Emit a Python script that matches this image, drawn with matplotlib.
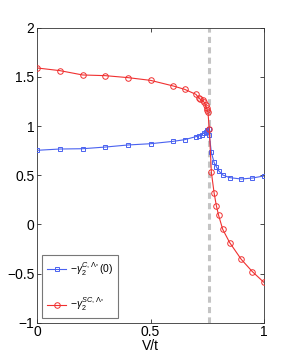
import matplotlib
matplotlib.use("Agg")
import matplotlib.pyplot as plt

plt.rcParams['font.family'] = ['Liberation Sans', 'DejaVu Sans']
plt.rcParams['mathtext.fontset'] = 'custom'
plt.rcParams['mathtext.rm'] = 'Liberation Sans'
plt.rcParams['mathtext.it'] = 'Liberation Sans:italic'

v_blue = [0, 0.1, 0.2, 0.3, 0.4, 0.5, 0.6, 0.65, 0.7, 0.713, 0.725, 0.735, 0.743, 0.747,
          0.751, 0.756, 0.759, 0.768, 0.78, 0.79, 0.8, 0.818, 0.849, 0.9, 0.949, 1.0]
gamma_c = [0.753, 0.766, 0.769, 0.786, 0.807, 0.820, 0.844, 0.861, 0.892, 0.898, 0.912,
           0.932, 0.942, 0.949, 0.959, 0.966, 0.908, 0.732, 0.63, 0.586, 0.546, 0.502,
           0.475, 0.461, 0.471, 0.492]

v_red = [0, 0.1, 0.2, 0.3, 0.4, 0.5, 0.6, 0.65, 0.7, 0.713, 0.72, 0.73, 0.737, 0.743,
         0.747, 0.75, 0.753, 0.759, 0.768, 0.78, 0.79, 0.8, 0.818, 0.849, 0.9, 0.949, 1.0]
gamma_sc = [1.59, 1.563, 1.519, 1.512, 1.492, 1.464, 1.407, 1.373, 1.322, 1.285, 1.27,
            1.26, 1.24, 1.21, 1.18, 1.16, 1.14, 0.97, 0.532, 0.322, 0.19, 0.092, -0.05,
            -0.186, -0.356, -0.481, -0.59]

v_crit = 0.757

fig = plt.figure(figsize=(2.91, 3.64), dpi=100)
ax = fig.add_axes([0.128, 0.1135, 0.779, 0.8105])

ax.axvline(v_crit, color='#c4c4c4', lw=2.2, ls=(0, (2.0, 1.4)), zorder=1)
ax.plot(v_blue, gamma_c, '-s', color='#4a62f0', lw=0.8, ms=3.5, mfc='none', mew=0.7,
        label=r'$-\gamma_2^{C,\Lambda_*}(0)$', zorder=3)
ax.plot(v_red, gamma_sc, '-o', color='#f03030', lw=0.8, ms=4, mfc='none', mew=0.7,
        label=r'$-\gamma_2^{SC,\Lambda_*}$', zorder=3)

ax.set_xlim(0, 1)
ax.set_ylim(-1, 2)
ax.set_xticks([0, 0.5, 1])
ax.set_xticklabels(['0', '0.5', '1'])
ax.set_yticks([-1, -0.5, 0, 0.5, 1, 1.5, 2])
ax.set_yticklabels(['\u22121', '\u22120.5', '0', '0.5', '1', '1.5', '2'])
ax.tick_params(direction='in', top=True, right=True, labelsize=10, length=3, width=0.5, pad=2)
for s in ax.spines.values():
    s.set_linewidth(0.6)
    s.set_color('#333333')
ax.set_xlabel('V/t', fontsize=10, labelpad=0)

leg = ax.legend(loc='lower left', bbox_to_anchor=(0.0, 0.0), borderaxespad=0.45, fontsize=7.5,
                frameon=True, fancybox=False, edgecolor='#555555', handlelength=1.9,
                borderpad=0.45, labelspacing=1.7, handletextpad=0.3)
leg.get_frame().set_linewidth(0.8)

fig.savefig('out.png', dpi=100)
